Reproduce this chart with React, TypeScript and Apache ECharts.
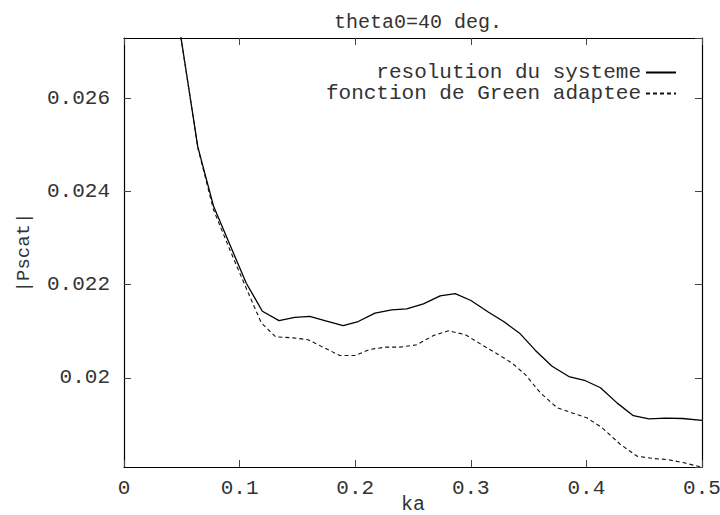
import React, { useEffect, useRef } from "react";
import * as echarts from "echarts";

const titleText = "theta0=40 deg.";
const xName = "ka";
const yName = "|Pscat|";
const seriesNames = ["resolution du systeme", "fonction de Green adaptee"];

const kaSys = [0.0352, 0.0494, 0.0638, 0.0775, 0.0917, 0.1058, 0.1197, 0.1341, 0.1477, 0.1607, 0.1752, 0.1896, 0.2026, 0.2171, 0.2316, 0.2446, 0.259, 0.2735, 0.2865, 0.3001, 0.3154, 0.3284, 0.3422, 0.3559, 0.3703, 0.3848, 0.3992, 0.4122, 0.4267, 0.4406, 0.4541, 0.4686, 0.4831, 0.5];
const pSys = [0.03, 0.02728, 0.02496, 0.02368, 0.02285, 0.02203, 0.02143, 0.02123, 0.0213, 0.02132, 0.02122, 0.02112, 0.02121, 0.02139, 0.02146, 0.02148, 0.02159, 0.02176, 0.02181, 0.02166, 0.02141, 0.02121, 0.02096, 0.02059, 0.02025, 0.02003, 0.01994, 0.01979, 0.01946, 0.01919, 0.01912, 0.01914, 0.01913, 0.01909];

const kaGreen = [0.0352, 0.0494, 0.0638, 0.0775, 0.0917, 0.1058, 0.1188, 0.1312, 0.1462, 0.1592, 0.173, 0.1867, 0.1997, 0.2127, 0.2257, 0.2388, 0.2532, 0.2677, 0.2807, 0.2951, 0.3096, 0.3226, 0.3356, 0.3472, 0.3602, 0.3747, 0.3877, 0.4007, 0.4137, 0.4296, 0.444, 0.4585, 0.4701, 0.4845, 0.499];
const pGreen = [0.03, 0.02728, 0.02494, 0.0236, 0.02274, 0.02192, 0.02118, 0.02088, 0.02086, 0.02082, 0.02065, 0.02048, 0.02048, 0.02061, 0.02066, 0.02066, 0.02071, 0.02091, 0.02101, 0.02093, 0.02071, 0.02052, 0.02032, 0.02007, 0.01968, 0.01936, 0.01925, 0.01914, 0.01893, 0.01857, 0.01832, 0.01827, 0.01825, 0.01818, 0.01809];

const xMin = 0;
const xMax = 0.5;
const xStep = 0.1;
const yMin = 0.01809;
const yMax = 0.02729;

const FONT = "Liberation Mono";
const TXT = "#333";

export default function App() {
  const ref = useRef<HTMLDivElement>(null);
  useEffect(() => {
    if (!ref.current) return;
    const chart = echarts.init(ref.current, null, { renderer: "svg" });
    const tickStyle = { show: true, inside: true, length: 7, lineStyle: { color: "#444", width: 1 } };
    const axisLine = { show: true, onZero: false, lineStyle: { color: "#000", width: 1.2 } };
    chart.setOption({
      animation: false,
      backgroundColor: "#fff",
      title: {
        text: titleText,
        left: 413,
        textAlign: "center",
        top: 7,
        textStyle: { fontFamily: FONT, fontSize: 20, fontWeight: "normal", color: TXT },
      },
      legend: {
        orient: "vertical",
        right: 38,
        top: 57,
        align: "right",
        itemWidth: 30,
        itemHeight: 10,
        itemGap: 0,
        itemStyle: { opacity: 0 },
        textStyle: { fontFamily: FONT, fontSize: 21, color: TXT, lineHeight: 20 },
        data: seriesNames,
      },
      grid: { left: 124, right: 18, top: 38, bottom: 48, containLabel: false, outerBoundsMode: "none" },
      xAxis: [
        {
          type: "value",
          min: xMin,
          max: xMax,
          interval: xStep,
          name: xName,
          nameLocation: "middle",
          nameGap: 27,
          nameMoveOverlap: false,
          nameTextStyle: { fontFamily: FONT, fontSize: 20, color: TXT },
          axisLine,
          axisTick: tickStyle,
          splitLine: { show: false },
          axisLabel: {
            fontFamily: FONT,
            fontSize: 21,
            color: TXT,
            margin: 11,
            formatter: (v: number) => (v === 0 ? "0" : String(Math.round(v * 10) / 10)),
          },
        },
        {
          type: "value",
          position: "top",
          min: xMin,
          max: xMax,
          interval: xStep,
          axisLine,
          axisTick: tickStyle,
          splitLine: { show: false },
          axisLabel: { show: false },
        },
      ],
      yAxis: [
        {
          type: "value",
          min: yMin,
          max: yMax,
          splitNumber: 5,
          name: yName,
          nameLocation: "middle",
          nameGap: 91,
          nameRotate: 90,
          nameMoveOverlap: false,
          nameTextStyle: { fontFamily: FONT, fontSize: 19, color: TXT },
          axisLine,
          axisTick: tickStyle,
          splitLine: { show: false },
          axisLabel: {
            fontFamily: FONT,
            fontSize: 21,
            color: TXT,
            margin: 14,
            showMinLabel: false,
            showMaxLabel: false,
          },
        },
        {
          type: "value",
          position: "right",
          min: yMin,
          max: yMax,
          splitNumber: 5,
          axisLine,
          axisTick: tickStyle,
          splitLine: { show: false },
          axisLabel: { show: false },
        },
      ],
      series: [
        {
          name: seriesNames[0],
          type: "line",
          data: kaSys.map((x, i) => [x, pSys[i]]),
          showSymbol: false,
          symbol: "none",
          clip: true,
          lineStyle: { color: "#000", width: 1.3, type: "solid" },
          itemStyle: { color: "#000" },
        },
        {
          name: seriesNames[1],
          type: "line",
          data: kaGreen.map((x, i) => [x, pGreen[i]]),
          showSymbol: false,
          symbol: "none",
          clip: true,
          lineStyle: { color: "#111", width: 1.1, type: [4, 3] },
          itemStyle: { color: "#111" },
        },
      ],
    });
    return () => chart.dispose();
  }, []);
  return <div ref={ref} style={{ width: 720, height: 515, position: "absolute", left: 0, top: 0 }} />;
}
